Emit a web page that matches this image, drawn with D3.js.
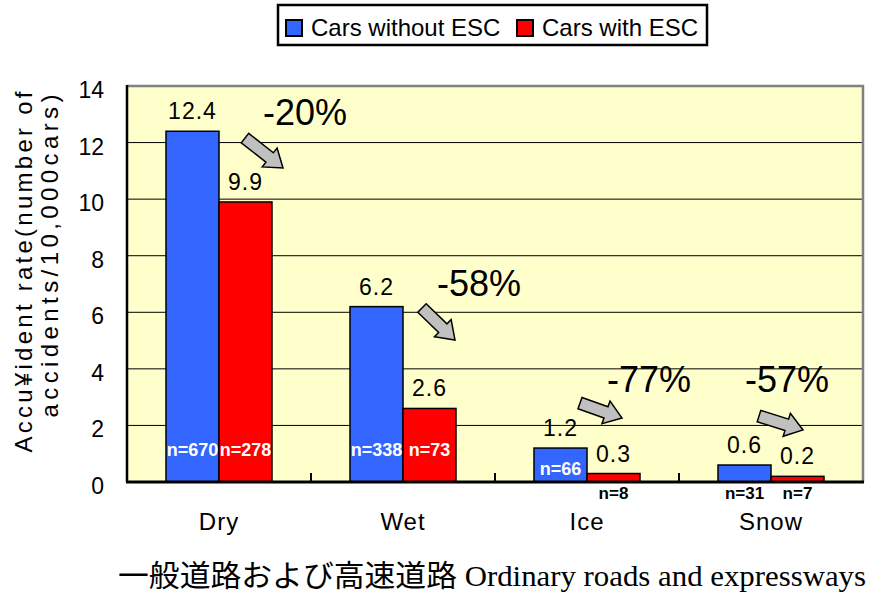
<!DOCTYPE html>
<html>
<head>
<meta charset="utf-8">
<script src="https://cdn.jsdelivr.net/npm/d3@7"></script>
<style>
  body { margin: 0; background: #fff; }
  svg { display: block; }
  text { font-family: "Liberation Sans", Arial, sans-serif; fill: #000; }
</style>
</head>
<body>
<div id="chart"></div>
<script>
// chart data
const categories = ['Dry', 'Wet', 'Ice', 'Snow'];
const seriesNames = ['Cars without ESC', 'Cars with ESC'];
const withoutEsc = [12.4, 6.2, 1.2, 0.6];
const withEsc = [9.9, 2.6, 0.3, 0.2];
const nWithout = ['n=670', 'n=338', 'n=66', 'n=31'];
const nWith = ['n=278', 'n=73', 'n=8', 'n=7'];
const reductions = ['-20%', '-58%', '-77%', '-57%'];
const yTicks = [0, 2, 4, 6, 8, 10, 12, 14];

const width = 872, height = 593;
const margin = {left: 127, right: 9, top: 86, bottom: 111};
const colors = ['#3366ff', '#ff0000'];

const svg = d3.select('#chart').append('svg')
  .attr('width', width)
  .attr('height', height);

const x0 = d3.scaleBand()
  .domain(categories)
  .range([margin.left, width - margin.right])
  .padding(0);

const x1 = d3.scaleBand()
  .domain(seriesNames)
  .range([0, x0.bandwidth()])
  .paddingInner(0)
  .paddingOuter(0.736);

const y = d3.scaleLinear()
  .domain([0, 14])
  .range([height - margin.bottom, margin.top]);

const plotL = margin.left, plotR = width - margin.right;
const plotT = margin.top, plotB = height - margin.bottom;

// plot background
svg.append('rect')
  .attr('x', plotL).attr('y', plotT)
  .attr('width', plotR - plotL).attr('height', plotB - plotT)
  .attr('fill', '#ffffcc');

// gridlines
svg.append('g')
  .selectAll('line')
  .data(yTicks.filter(d => d > 0 && d < 14))
  .enter().append('line')
  .attr('x1', plotL).attr('x2', plotR)
  .attr('y1', d => y(d)).attr('y2', d => y(d))
  .attr('stroke', '#000').attr('stroke-width', 1);

// gray top / right border
svg.append('path')
  .attr('d', `M${plotL},${plotT}H${plotR}V${plotB}`)
  .attr('fill', 'none').attr('stroke', '#808080').attr('stroke-width', 2.5);

// y tick labels
svg.append('g')
  .selectAll('text')
  .data(yTicks)
  .enter().append('text')
  .attr('x', 104)
  .attr('y', d => y(d) + 12)
  .attr('text-anchor', 'end')
  .style('font-size', '23px')
  .text(d => d);

// bars
const series = [withoutEsc, withEsc];
const groups = svg.append('g')
  .selectAll('g')
  .data(categories)
  .enter().append('g')
  .attr('transform', d => `translate(${x0(d)},0)`);

groups.selectAll('rect')
  .data((d, i) => series.map((s, k) => ({name: seriesNames[k], k: k, v: s[i]})))
  .enter().append('rect')
  .attr('x', d => x1(d.name))
  .attr('y', d => y(d.v))
  .attr('width', x1.bandwidth())
  .attr('height', d => y(0) - y(d.v))
  .attr('fill', d => colors[d.k])
  .attr('stroke', '#000')
  .attr('stroke-width', 1.5);

// value labels
groups.selectAll('text.val')
  .data((d, i) => series.map((s, k) => ({name: seriesNames[k], v: s[i]})))
  .enter().append('text')
  .attr('class', 'val')
  .attr('x', d => x1(d.name) + x1.bandwidth() / 2)
  .attr('y', d => y(d.v) - 12)
  .attr('text-anchor', 'middle')
  .style('font-size', '23px')
  .style('letter-spacing', '1px')
  .text(d => d.v.toFixed(1));

// n labels: inside the bar if tall enough, otherwise under the axis
const nSeries = [nWithout, nWith];
groups.selectAll('text.n')
  .data((d, i) => series.map((s, k) => ({name: seriesNames[k], v: s[i], n: nSeries[k][i]})))
  .enter().append('text')
  .attr('class', 'n')
  .attr('x', d => x1(d.name) + x1.bandwidth() / 2)
  .attr('y', d => d.v >= 1 ? Math.max(y(d.v) + 27, y(0) - 26) : y(0) + 17)
  .attr('text-anchor', 'middle')
  .style('font-size', d => d.v >= 1 ? '18px' : '17px')
  .style('font-weight', 'bold')
  .style('fill', d => d.v >= 1 ? '#fff' : '#000')
  .text(d => d.n);

// axes lines
svg.append('line')
  .attr('x1', plotL).attr('x2', plotL)
  .attr('y1', plotT - 1).attr('y2', plotB)
  .attr('stroke', '#000').attr('stroke-width', 2.5);
svg.append('line')
  .attr('x1', plotL - 1).attr('x2', plotR + 1)
  .attr('y1', plotB).attr('y2', plotB)
  .attr('stroke', '#000').attr('stroke-width', 3);

// category separator ticks
svg.append('g')
  .selectAll('line')
  .data(categories.slice(1))
  .enter().append('line')
  .attr('x1', d => x0(d)).attr('x2', d => x0(d))
  .attr('y1', plotB - 9).attr('y2', plotB)
  .attr('stroke', '#000').attr('stroke-width', 2);

// category labels
svg.append('g')
  .selectAll('text')
  .data(categories)
  .enter().append('text')
  .attr('x', d => x0(d) + x0.bandwidth() / 2)
  .attr('y', 530)
  .attr('text-anchor', 'middle')
  .style('font-size', '24px')
  .style('letter-spacing', '1px')
  .text(d => d);

// reduction arrows and labels (offsets from category centre, y in data units)
const arrowGeom = [
  {tail: [26, 12.16], tip: [64, 11.1], label: [86, 12.62]},
  {tail: [19, 6.15], tip: [52, 5.02], label: [76, 6.57]},
  {tail: [-7, 2.79], tip: [35, 2.26], label: [62, 3.18]},
  {tail: [-12, 2.33], tip: [32, 1.84], label: [16, 3.18]}
];

function blockArrow(g, ax, ay, bx, by) {
  const L = Math.hypot(bx - ax, by - ay);
  const ang = Math.atan2(by - ay, bx - ax) * 180 / Math.PI;
  const sw = 6, hw = 12, hl = 17;
  const pts = [[0, -sw], [L - hl, -sw], [L - hl, -hw], [L, 0], [L - hl, hw], [L - hl, sw], [0, sw]];
  g.append('polygon')
    .attr('points', pts.map(p => p.join(',')).join(' '))
    .attr('transform', `translate(${ax},${ay}) rotate(${ang})`)
    .attr('fill', '#c0c0c0')
    .attr('stroke', '#000')
    .attr('stroke-width', 1.5)
    .attr('stroke-linejoin', 'miter');
}

const ann = svg.append('g');
categories.forEach((c, i) => {
  const cx = x0(c) + x0.bandwidth() / 2;
  const a = arrowGeom[i];
  blockArrow(ann, cx + a.tail[0], y(a.tail[1]), cx + a.tip[0], y(a.tip[1]));
  ann.append('text')
    .attr('x', cx + a.label[0])
    .attr('y', y(a.label[1]))
    .attr('text-anchor', 'middle')
    .style('font-size', '36px')
    .text(reductions[i]);
});

// y axis title
const yTitle = svg.append('g');
yTitle.append('text')
  .attr('transform', 'translate(32,272) rotate(-90)')
  .attr('text-anchor', 'middle')
  .attr('textLength', 361)
  .attr('lengthAdjust', 'spacing')
  .style('font-size', '24px')
  .text('Accu¥ident rate(number of');
yTitle.append('text')
  .attr('transform', 'translate(58,256) rotate(-90)')
  .attr('text-anchor', 'middle')
  .attr('textLength', 323)
  .attr('lengthAdjust', 'spacing')
  .style('font-size', '24px')
  .text('accidents/10,000cars)');

// x axis title
svg.append('text')
  .attr('x', 118)
  .attr('y', 586)
  .attr('textLength', 748)
  .attr('lengthAdjust', 'spacingAndGlyphs')
  .style('font-family', '"Liberation Serif", "Times New Roman", "Noto Sans CJK JP", serif')
  .style('font-size', '30px')
  .text('一般道路および高速道路 Ordinary roads and expressways');

// legend
const legend = svg.append('g');
legend.append('rect')
  .attr('x', 278).attr('y', 5)
  .attr('width', 429).attr('height', 40)
  .attr('fill', '#fff').attr('stroke', '#000').attr('stroke-width', 2.5);
const legendX = [286, 517];
seriesNames.forEach((s, k) => {
  legend.append('rect')
    .attr('x', legendX[k]).attr('y', 20)
    .attr('width', 16).attr('height', 16)
    .attr('fill', colors[k]).attr('stroke', '#000').attr('stroke-width', 2);
  legend.append('text')
    .attr('x', legendX[k] + 25).attr('y', 36)
    .style('font-size', '24px')
    .text(s);
});
</script>
</body>
</html>
